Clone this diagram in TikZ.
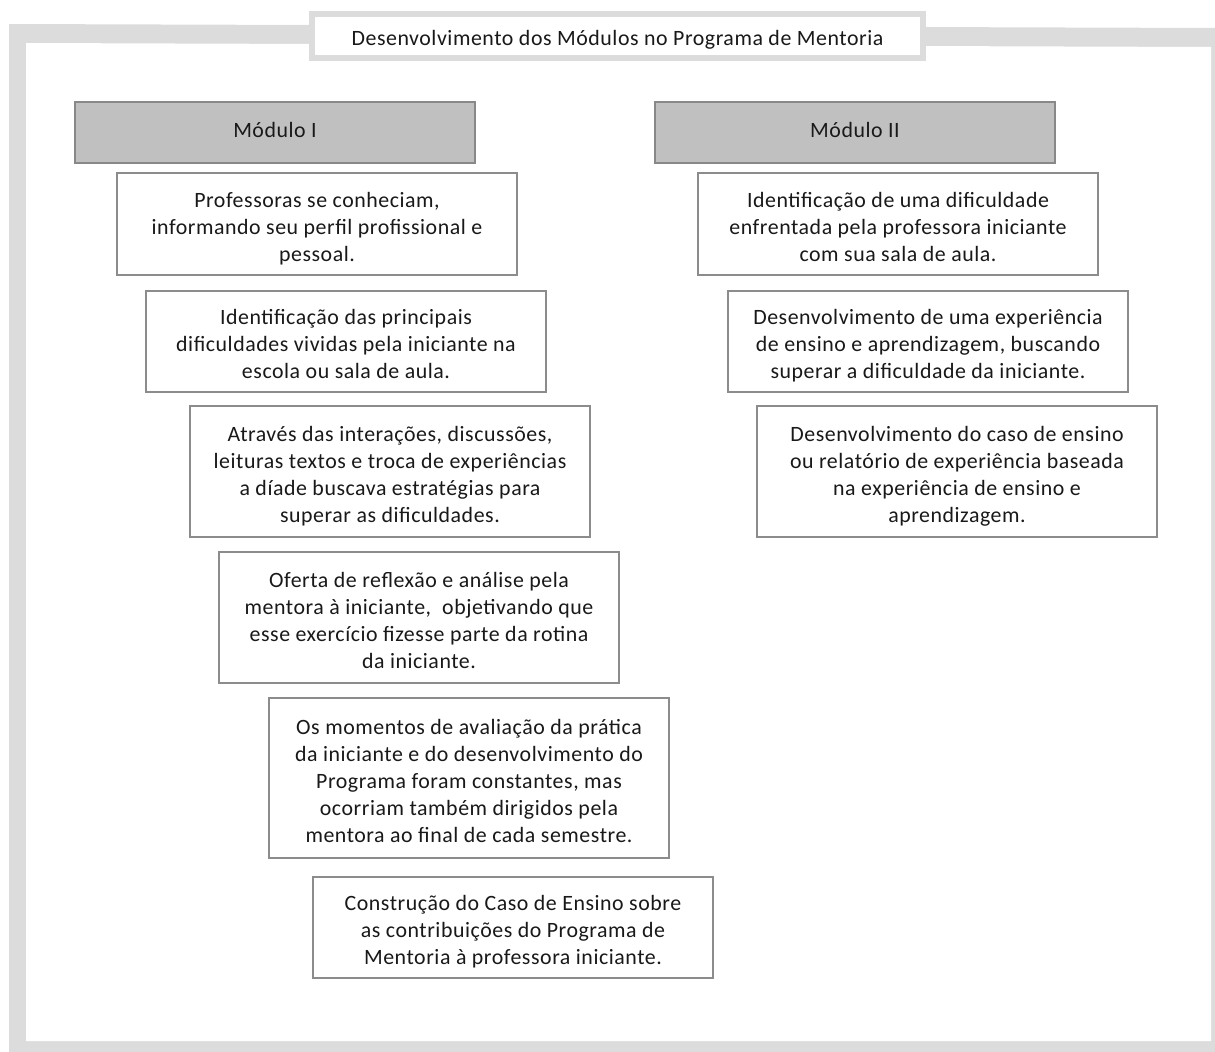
\documentclass[tikz,border=0pt]{standalone}
\usepackage{fontspec}
\setmainfont{Carlito}[LetterSpace=2.5]
\definecolor{framegray}{RGB}{220,220,220}
\definecolor{modfill}{RGB}{192,192,192}
\definecolor{modline}{RGB}{136,136,136}
\definecolor{boxline}{RGB}{140,140,140}
\definecolor{txt}{RGB}{25,25,25}
\newcommand{\btext}[1]{\raisebox{-3.5pt}[\height][\depth]{\begin{tabular}{@{}c@{}}#1\end{tabular}}}
\newcommand{\shiftv}[2]{\raisebox{#1}[\height][\depth]{#2}}
\begin{document}
\begin{tikzpicture}[x=0.75pt,y=-0.75pt,
  every node/.style={inner sep=0pt,outer sep=0pt,text=txt,
    font=\fontsize{16.4pt}{20.25pt}\selectfont},
  stagebox/.style={draw=boxline,line width=1.1pt,fill=white,minimum width=300pt},
  modbox/.style={draw=modline,line width=1.4pt,fill=modfill,minimum width=300pt,minimum height=45.75pt},
  titlebox/.style={draw=framegray,line width=4.5pt,fill=white,minimum width=458.25pt,minimum height=33pt}]
\useasboundingbox (0,0) rectangle (1215,1052);
% outer frame
\fill[framegray] (9,24) -- (1215,28) -- (1215,1052) -- (9,1052) -- cycle;
\fill[white] (26,43) -- (1211,47) -- (1211,1041) -- (26,1041) -- cycle;
% title
\node[titlebox] (title) at (617.5,36) {\shiftv{-3pt}{Desenvolvimento dos Módulos no Programa de Mentoria}};
% module headers
\node[modbox] (m1) at (275,132.5) {\shiftv{2pt}{Módulo I}};
\node[modbox] (m2) at (855,132.5) {\shiftv{2pt}{Módulo II}};
% left column
\node[stagebox,minimum height=76.5pt] (l1) at (317,224)
  {\btext{Professoras se conheciam,\\informando seu perfil profissional e\\pessoal.}};
\node[stagebox,minimum height=75.75pt] (l2) at (346,341.5)
  {\btext{Identificação das principais\\dificuldades vividas pela iniciante na\\escola ou sala de aula.}};
\node[stagebox,minimum height=98.25pt] (l3) at (390,471.5)
  {\btext{Através das interações, discussões,\\leituras textos e troca de experiências\\a díade buscava estratégias para\\superar as dificuldades.}};
\node[stagebox,minimum height=98.25pt] (l4) at (419,617.5)
  {\btext{Oferta de reflexão e análise pela\\mentora à iniciante,\ \ objetivando que\\esse exercício fizesse parte da rotina\\da iniciante.}};
\node[stagebox,minimum height=120pt] (l5) at (469,778)
  {\btext{Os momentos de avaliação da prática\\da iniciante e do desenvolvimento do\\Programa foram constantes, mas\\ocorriam também dirigidos pela\\mentora ao final de cada semestre.}};
\node[stagebox,minimum height=75.75pt] (l6) at (513,927.5)
  {\btext{Construção do Caso de Ensino sobre\\as contribuições do Programa de\\Mentoria à professora iniciante.}};
% right column
\node[stagebox,minimum height=76.5pt] (r1) at (898,224)
  {\btext{Identificação de uma dificuldade\\enfrentada pela professora iniciante\\com sua sala de aula.}};
\node[stagebox,minimum height=75.75pt] (r2) at (928,341.5)
  {\btext{Desenvolvimento de uma experiência\\de ensino e aprendizagem, buscando\\superar a dificuldade da iniciante.}};
\node[stagebox,minimum height=98.25pt] (r3) at (957,471.5)
  {\btext{Desenvolvimento do caso de ensino\\ou relatório de experiência baseada\\na experiência de ensino e\\aprendizagem.}};
\end{tikzpicture}
\end{document}
